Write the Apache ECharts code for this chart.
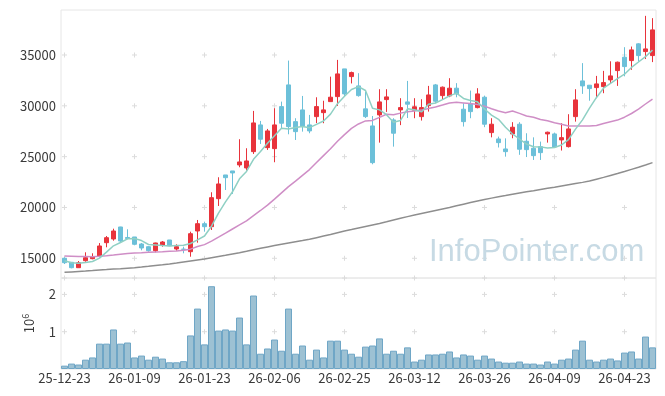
<!DOCTYPE html>
<html>
<head>
<meta charset="utf-8">
<script src="https://cdn.jsdelivr.net/npm/echarts@6/dist/echarts.min.js"></script>
<style>
html,body{margin:0;padding:0;background:#fff;}
#chart{width:665px;height:396px;}
</style>
</head>
<body>
<div id="chart"></div>
<script>
var dates = ['25-12-23','25-12-24','25-12-26','25-12-29','25-12-30','26-01-02','26-01-05','26-01-06','26-01-07','26-01-08','26-01-09','26-01-12','26-01-13','26-01-14','26-01-15','26-01-16','26-01-19','26-01-20','26-01-21','26-01-22','26-01-23','26-01-26','26-01-27','26-01-28','26-01-29','26-01-30','26-02-02','26-02-03','26-02-04','26-02-05','26-02-06','26-02-09','26-02-10','26-02-11','26-02-12','26-02-13','26-02-19','26-02-20','26-02-23','26-02-24','26-02-25','26-02-26','26-02-27','26-03-03','26-03-04','26-03-05','26-03-06','26-03-09','26-03-10','26-03-11','26-03-12','26-03-13','26-03-16','26-03-17','26-03-18','26-03-19','26-03-20','26-03-23','26-03-24','26-03-25','26-03-26','26-03-27','26-03-30','26-03-31','26-04-01','26-04-02','26-04-03','26-04-06','26-04-07','26-04-08','26-04-09','26-04-10','26-04-13','26-04-14','26-04-15','26-04-16','26-04-17','26-04-20','26-04-21','26-04-22','26-04-23','26-04-24','26-04-27','26-04-28','26-04-29'];

var opens  = [15000,14606,14075,14764,14961,15226,16536,16900,18081,17050,17097,16408,16142,15748,16309,16801,15915,15900,15650,17687,18406,18110,20866,23199,23593,24184,23888,25493,28121,25886,25788,29922,32058,28445,29597,28121,28937,29330,30414,30906,33633,32874,31960,29700,28022,29105,30611,28613,29597,30385,29570,28937,30020,32058,31004,30975,31733,29666,30217,29823,30847,27363,26742,25758,27235,28190,26516,25827,25985,27235,27235,26644,25985,28937,32452,32028,31792,31890,32550,33465,34784,34450,36094,35336,34942];
var closes = [14567,14075,14567,15059,15157,16211,17028,17687,16703,16950,16378,16014,15748,16506,16604,16240,16142,15880,17421,18406,18110,20965,22313,22933,23396,24479,24577,28317,26713,27530,28121,28288,27953,27460,28022,27530,29922,29600,30847,33140,31172,33268,31004,28940,24410,30385,30877,27304,29823,30160,29900,29823,31070,30453,31832,31733,31172,28445,29430,31172,28190,28190,26378,25493,27894,25729,25690,25099,25394,27400,25955,26870,27727,30582,31960,31694,32156,32284,32944,34292,33859,35503,34942,35600,37470];
var lows   = [14439,14016,14075,14665,14902,15098,16083,16732,16575,16870,16280,15787,15650,15590,16142,16200,15748,15492,15157,16535,17618,17785,20148,21720,21330,23957,23622,25266,26250,25660,24449,27796,27200,26640,27460,27300,28300,28288,30400,29990,30900,32200,30900,28800,24250,26378,29400,25984,28100,28800,28780,28550,29430,30250,30650,30850,30840,27960,28780,29750,27900,26900,25900,25000,26811,25180,24960,24676,24676,26378,25860,25600,25900,28445,31172,30500,30750,31240,32160,31960,32900,33540,34350,34600,34300];
var highs  = [15098,14606,14734,15590,15492,16500,17195,17913,18100,17855,17097,16506,16200,16535,16703,16801,16378,16142,17618,18770,18603,21497,22973,23199,23593,26713,25827,29499,28514,27727,29765,30414,34450,28780,30972,29105,30840,30500,32870,34518,33633,33366,33209,31400,29000,31634,31634,28780,30750,32450,30750,30650,31960,32150,31900,32717,32230,30250,31500,31733,31000,28780,26970,26800,28390,28390,27300,26900,26480,27460,27363,28290,29175,31634,34200,32050,32944,33436,34380,34350,35769,35830,36160,38850,38623];

var ma5  = [14760,14560,14520,14580,14685,15014,15604,16228,16557,16916,16949,16746,16359,16319,16250,16222,16248,16274,16457,16818,17192,18156,19443,20545,21543,22817,23540,24740,25496,26323,27052,27794,27721,27870,27969,27851,28177,28507,29184,30208,30936,31605,31886,31505,29759,29601,29123,28383,28560,29710,29613,29402,30155,30281,30616,30982,31252,30727,30522,30390,29682,29085,28672,27885,27229,26737,26237,25981,25961,25862,25908,26144,26669,27707,28619,29767,30824,31735,32208,32674,33107,33776,34308,34839,35475];
var ma20 = [15220,15200,15180,15170,15160,15200,15260,15330,15410,15480,15520,15550,15590,15620,15650,15690,15730,15790,15900,16167,16344,16689,17076,17470,17882,18295,18673,19204,19705,20234,20821,21434,22045,22592,23163,23728,24417,25103,25774,26511,27164,27779,28214,28514,28565,28860,29175,29124,29280,29411,29500,29577,29733,29883,30073,30283,30346,30288,30217,30119,29970,29716,29484,29312,29486,29253,28994,28884,28662,28524,28327,28179,28012,28019,28025,28023,28072,28264,28440,28596,28880,29245,29673,30179,30658];
var maLong = [13620,13660,13700,13740,13790,13850,13890,13940,13980,14030,14075,14140,14210,14290,14360,14440,14530,14630,14730,14830,14930,15050,15170,15290,15420,15550,15690,15840,15980,16120,16260,16380,16500,16620,16740,16870,17030,17190,17350,17520,17690,17830,17980,18130,18280,18430,18590,18760,18930,19100,19260,19410,19560,19710,19860,20000,20160,20320,20480,20640,20790,20920,21050,21170,21300,21430,21540,21650,21770,21880,21990,22110,22230,22350,22470,22600,22780,22960,23150,23340,23540,23750,23960,24180,24410];

var volumes = [0.09,0.145,0.12,0.25,0.31,0.68,0.68,1.06,0.68,0.71,0.31,0.36,0.25,0.33,0.28,0.18,0.18,0.21,0.90,1.62,0.66,2.22,1.03,1.06,1.03,1.38,0.66,1.97,0.41,0.55,0.79,0.49,1.62,0.41,0.63,0.25,0.52,0.31,0.76,0.76,0.52,0.41,0.33,0.60,0.63,0.82,0.41,0.49,0.41,0.58,0.20,0.25,0.39,0.39,0.41,0.47,0.31,0.39,0.36,0.25,0.36,0.28,0.20,0.17,0.17,0.20,0.145,0.145,0.12,0.20,0.145,0.25,0.28,0.52,0.76,0.25,0.20,0.25,0.28,0.23,0.44,0.47,0.28,0.87,0.58];
var volumeScale = 1000000;

var priceTicks = [15000,20000,25000,30000,35000];
var volumeTicks = [1,2];
var labelEvery = 10;

var FONT = 'Noto Sans CJK KR';
var TXT = '#3a3a3a';
var BORDER = '#e6e6e6';

var candleData = opens.map(function(o, i){ return [o, closes[i], lows[i], highs[i]]; });
var volData = volumes.map(function(v){ return v * volumeScale; });

var chart = echarts.init(document.getElementById('chart'), null, {renderer:'canvas'});

var option = {
  animation: false,
  backgroundColor: '#fff',
  grid: [
    {left: 61, right: 9, top: 10, height: 268, show: true, borderColor: BORDER, borderWidth: 1, backgroundColor: 'transparent'},
    {left: 61, right: 9, top: 278, bottom: 27, show: true, borderColor: BORDER, borderWidth: 1, backgroundColor: 'transparent'}
  ],
  xAxis: [
    {type: 'category', gridIndex: 0, data: dates, boundaryGap: true,
     axisLine: {show: false}, axisTick: {show: false}, axisLabel: {show: false}, splitLine: {show: false}},
    {type: 'category', gridIndex: 1, data: dates, boundaryGap: true,
     axisLine: {show: false}, axisTick: {show: false}, splitLine: {show: false},
     axisLabel: {show: true, interval: labelEvery - 1, margin: 3, color: TXT, fontSize: 13, fontFamily: FONT}}
  ],
  yAxis: [
    {type: 'value', gridIndex: 0, min: 13062, max: 39426, splitNumber: 5,
     axisLine: {show: false}, axisTick: {show: false}, splitLine: {show: false},
     axisLabel: {color: TXT, fontSize: 13, fontFamily: FONT, margin: 5, showMinLabel: false, showMaxLabel: false,
       formatter: function(v){ return priceTicks.indexOf(v) >= 0 ? String(v) : ''; }}},
    {type: 'value', gridIndex: 1, min: 0, max: 2440000, interval: 1000000,
     axisLine: {show: false}, axisTick: {show: false}, splitLine: {show: false},
     axisLabel: {color: TXT, fontSize: 13, fontFamily: FONT, margin: 5, showMinLabel: false, showMaxLabel: false,
       formatter: function(v){ var t = v / volumeScale; return volumeTicks.indexOf(t) >= 0 ? String(t) : ''; }},
     name: '{a|10}{b|6}', nameLocation: 'middle', nameRotate: 90, nameGap: 24,
     nameTextStyle: {color: TXT, fontFamily: FONT,
       rich: {a: {fontSize: 13, fontFamily: FONT, color: TXT, lineHeight: 16},
              b: {fontSize: 9, fontFamily: FONT, color: TXT, verticalAlign: 'top', lineHeight: 16, padding: [0,0,5,0]}}}}
  ],
  series: [
    {type: 'candlestick', xAxisIndex: 0, yAxisIndex: 0, data: candleData, barWidth: 4,
     itemStyle: {color: '#e8333b', color0: '#6cc0d9', borderColor: '#e8333b', borderColor0: '#6cc0d9', borderWidth: 1}},
    {type: 'line', xAxisIndex: 0, yAxisIndex: 0, data: maLong, showSymbol: false, smooth: false,
     lineStyle: {color: '#8e8e8e', width: 1.5}, z: 3},
    {type: 'line', xAxisIndex: 0, yAxisIndex: 0, data: ma20, showSymbol: false,
     lineStyle: {color: '#cf8ec6', width: 1.5}, z: 3},
    {type: 'line', xAxisIndex: 0, yAxisIndex: 0, data: ma5, showSymbol: false,
     lineStyle: {color: '#8fd0c4', width: 1.5}, z: 3},
    {type: 'bar', xAxisIndex: 1, yAxisIndex: 1, data: volData, barCategoryGap: '0%',
     itemStyle: {color: '#9dc1d3', borderColor: '#6fa6c6', borderWidth: 1}}
  ]
};
chart.setOption(option);

// grid "+" markers at label columns and value ticks, positioned through the axes
var marks = [];
function addCross(p){
  var a = 2.5;
  marks.push({type: 'line', silent: true, z: 0, shape: {x1: p[0]-a, y1: p[1], x2: p[0]+a, y2: p[1]}, style: {stroke: '#dcdcdc', lineWidth: 1}});
  marks.push({type: 'line', silent: true, z: 0, shape: {x1: p[0], y1: p[1]-a, x2: p[0], y2: p[1]+a}, style: {stroke: '#dcdcdc', lineWidth: 1}});
}
for (var i = 0; i < dates.length; i += labelEvery) {
  priceTicks.forEach(function(v){
    addCross(chart.convertToPixel({xAxisIndex: 0, yAxisIndex: 0}, [i, v]));
  });
  volumeTicks.concat([2.44]).forEach(function(t){
    addCross(chart.convertToPixel({xAxisIndex: 1, yAxisIndex: 1}, [i, t * volumeScale]));
  });
}
marks.push({type: 'text', silent: true, z: 1, left: 429, top: 237,
  style: {text: 'InfoPointer.com', fill: '#c7dae4', font: '31px "Liberation Sans", sans-serif'}});
chart.setOption({graphic: marks});
</script>
</body>
</html>
